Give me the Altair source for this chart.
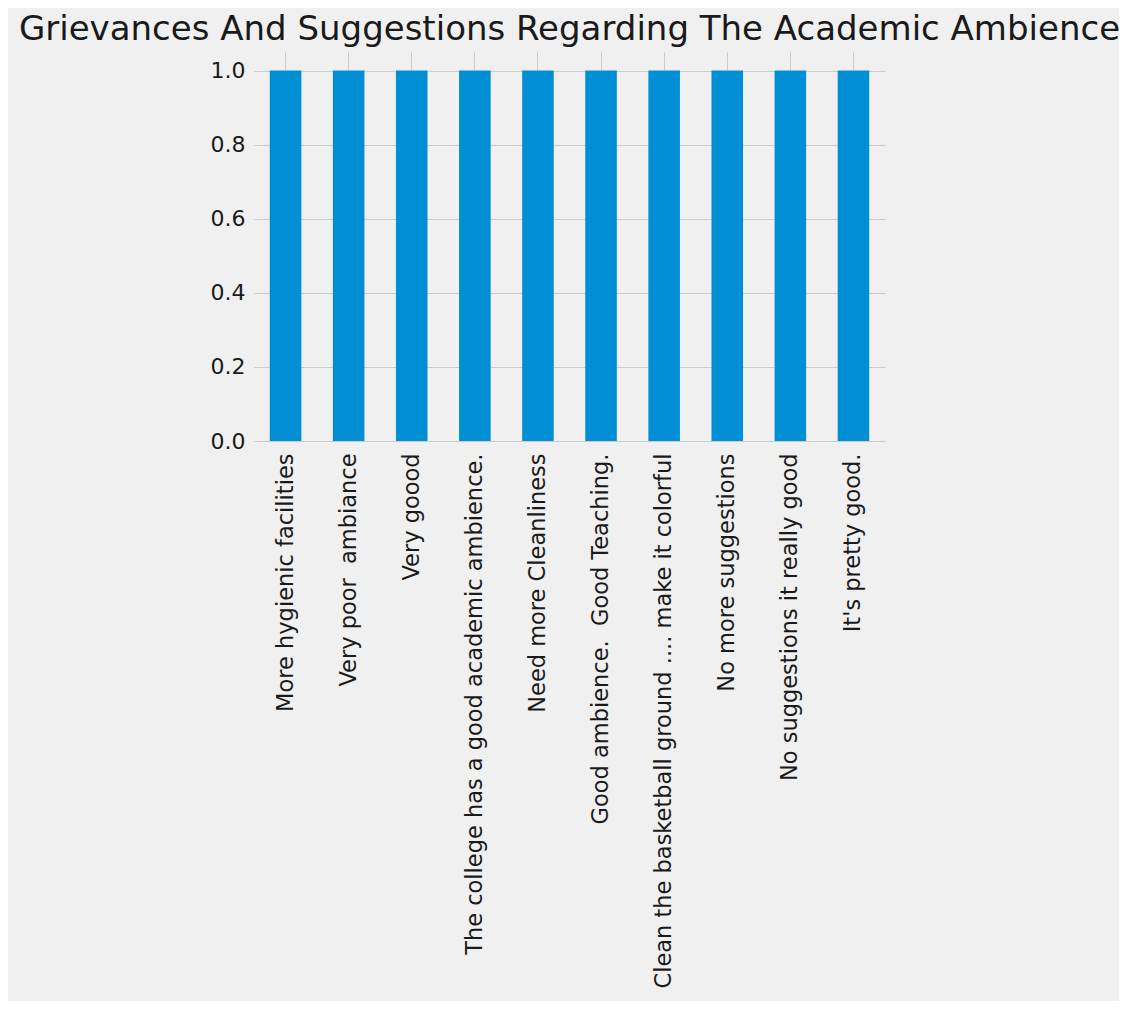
import altair as alt
import pandas as pd

categories = [
    "More hygienic facilities",
    "Very poor  ambiance",
    "Very goood",
    "The college has a good academic ambience.",
    "Need more Cleanliness",
    "Good ambience.  Good Teaching.",
    "Clean the basketball ground .... make it colorful",
    "No more suggestions",
    "No suggestions it really good",
    "It's pretty good.",
]
counts = [1, 1, 1, 1, 1, 1, 1, 1, 1, 1]
y_ticks = [0.0, 0.2, 0.4, 0.6, 0.8, 1.0]

df = pd.DataFrame({"response": categories, "count": counts})

FONT = "DejaVu Sans"
BG = "#f0f0f0"

chart = (
    alt.Chart(df)
    .mark_bar(color="#008fd5")
    .encode(
        x=alt.X(
            "response:N",
            sort=categories,
            title=None,
            scale=alt.Scale(paddingInner=0.5, paddingOuter=0.25),
            axis=alt.Axis(
                labelAngle=-90,
                labelAlign="right",
                labelBaseline="middle",
                labelFontSize=22.5,
                labelFont=FONT,
                labelColor="#1a1a1a",
                labelPadding=12,
                labelLimit=1000,
                labelExpr="replace(datum.label, '  ', ' \u00a0')",
                ticks=False,
                domain=False,
                grid=True,
                gridColor="#cbcbcb",
                gridWidth=1,
                bandPosition=0.5,
            ),
        ),
        y=alt.Y(
            "count:Q",
            title=None,
            scale=alt.Scale(domain=[0, 1.05], nice=False),
            axis=alt.Axis(
                values=y_ticks,
                format=".1f",
                labelFontSize=22,
                labelFont=FONT,
                labelColor="#1a1a1a",
                labelPadding=9,
                ticks=False,
                domain=False,
                grid=True,
                gridColor="#cbcbcb",
                gridWidth=1,
            ),
        ),
    )
    .properties(
        width=631,
        height=389,
        title=alt.TitleParams(
            "Grievances And Suggestions Regarding The Academic Ambience",
            font=FONT,
            fontSize=34,
            fontWeight="normal",
            color="#1a1a1a",
            anchor="middle",
            frame="group",
            baseline="alphabetic",
            offset=-22,
        ),
        autosize=alt.AutoSizeParams(type="none"),
        padding={"left": 246, "top": 44, "right": 234, "bottom": 560},
        background=BG,
    )
    .configure_view(stroke=None, fill=BG)
)

chart.save("out.html", embed_options={"renderer": "svg", "actions": False})
